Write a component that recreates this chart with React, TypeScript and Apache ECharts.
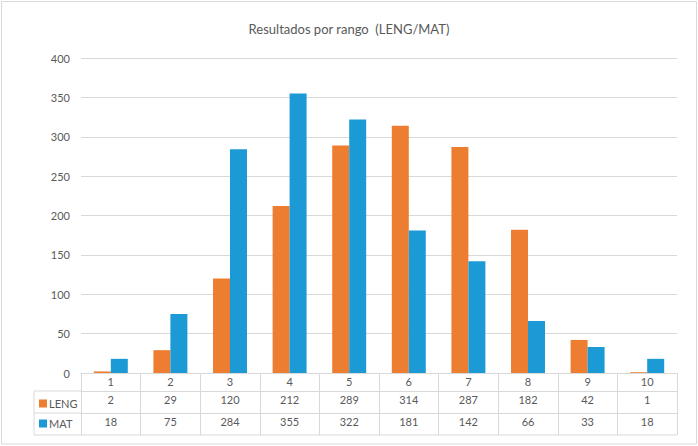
import React, { useEffect, useRef } from "react";
import * as echarts from "echarts";

const categories = ["1", "2", "3", "4", "5", "6", "7", "8", "9", "10"];
const lengValues = [2, 29, 120, 212, 289, 314, 287, 182, 42, 1];
const matValues = [18, 75, 284, 355, 322, 181, 142, 66, 33, 18];
const seriesNames = ["LENG", "MAT"];
const titleText = "Resultados por rango  (LENG/MAT)";

const W = 698;
const H = 446;
const GL = 81;
const GR = 677;
const GT = 58;
const GB = 373;
const ROW1 = 18;
const ROW2 = 40;
const ROW3 = 62;
const TL = 34;
const LINE = "#D9D9D9";
const TXT = "#595959";
const FONT = "Lato, 'Open Sans', sans-serif";

export default function App() {
  const ref = useRef<HTMLDivElement>(null);
  useEffect(() => {
    if (!ref.current) return;
    const chart = echarts.init(ref.current, undefined, { renderer: "svg" });
    const tableAxis = (data: string[], offset: number, ticks: boolean) => ({
      type: "category",
      data,
      gridIndex: 0,
      position: "bottom",
      offset,
      boundaryGap: true,
      axisLine: { show: true, lineStyle: { color: LINE, width: 1 } },
      axisTick: ticks
        ? { show: true, interval: 0, alignWithLabel: false, length: ROW3, lineStyle: { color: LINE } }
        : { show: false },
      axisLabel: { interval: 0, color: TXT, fontSize: 11, fontFamily: FONT, margin: 3 },
      splitLine: { show: false },
    });
    chart.setOption({
      animation: false,
      backgroundColor: "#ffffff",
      textStyle: { fontFamily: FONT },
      title: {
        text: titleText,
        left: "center",
        top: 17,
        textStyle: { fontSize: 13, fontWeight: "normal", color: TXT, fontFamily: FONT },
      },
      legend: {
        orient: "vertical",
        left: TL + 5,
        top: GB + ROW1 + 7,
        padding: 0,
        itemWidth: 8,
        itemHeight: 8,
        itemGap: 9,
        icon: "rect",
        data: seriesNames,
        textStyle: { color: TXT, fontSize: 11, fontFamily: FONT, padding: [0, 0, 0, -3] },
      },
      grid: { left: GL, right: W - GR, top: GT, bottom: H - GB, containLabel: false },
      xAxis: [
        tableAxis(categories, 0, true),
        tableAxis(lengValues.map(String), ROW1, false),
        tableAxis(matValues.map(String), ROW2, false),
      ],
      yAxis: {
        type: "value",
        min: 0,
        max: 400,
        interval: 50,
        axisLine: { show: false },
        axisTick: { show: false },
        axisLabel: { color: TXT, fontSize: 11, fontFamily: FONT, margin: 11 },
        splitLine: { lineStyle: { color: LINE, width: 1 } },
      },
      series: [
        {
          name: seriesNames[0],
          type: "bar",
          xAxisIndex: 0,
          data: lengValues,
          itemStyle: { color: "#ED7D31" },
          barGap: "0%",
          barCategoryGap: "43%",
        },
        {
          name: seriesNames[1],
          type: "bar",
          xAxisIndex: 0,
          data: matValues,
          itemStyle: { color: "#1B9AD6" },
          barGap: "0%",
          barCategoryGap: "43%",
        },
      ],
      graphic: [
        { type: "rect", shape: { x: 1.5, y: 1.5, width: W - 3, height: H - 3.5 }, style: { fill: "none", stroke: LINE, lineWidth: 1 }, silent: true },
        { type: "line", shape: { x1: TL, y1: GB + ROW1, x2: GL, y2: GB + ROW1 }, style: { stroke: LINE, lineWidth: 1 } },
        { type: "line", shape: { x1: TL, y1: GB + ROW2, x2: GL, y2: GB + ROW2 }, style: { stroke: LINE, lineWidth: 1 } },
        { type: "line", shape: { x1: TL, y1: GB + ROW3, x2: GR, y2: GB + ROW3 }, style: { stroke: LINE, lineWidth: 1 } },
        { type: "line", shape: { x1: TL, y1: GB + ROW1, x2: TL, y2: GB + ROW3 }, style: { stroke: LINE, lineWidth: 1 } },
      ],
    });
    return () => chart.dispose();
  }, []);
  return <div ref={ref} style={{ width: W, height: H, position: "absolute", left: 0, top: 0 }} />;
}
